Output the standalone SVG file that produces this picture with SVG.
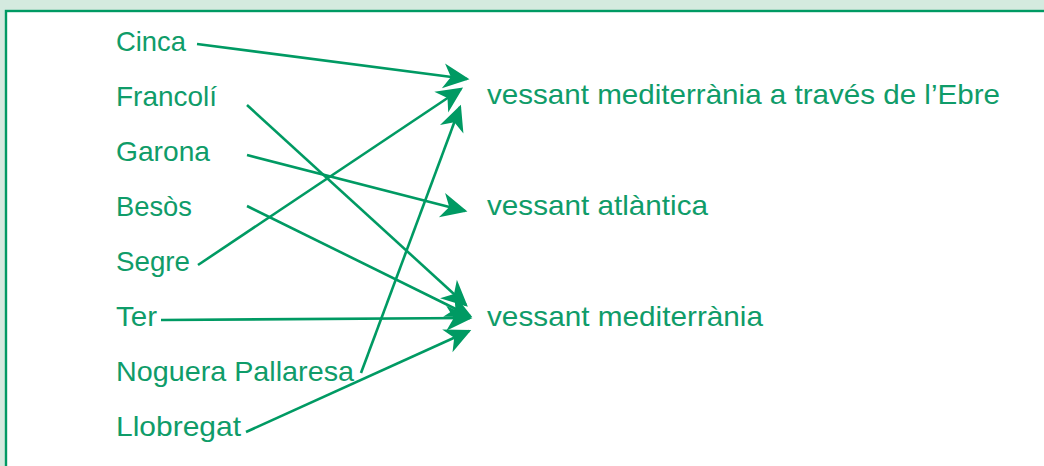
<svg xmlns="http://www.w3.org/2000/svg" width="1044" height="466" viewBox="0 0 1044 466">
<style>
.t{font-family:"Liberation Sans",Arial,sans-serif;font-size:28px;fill:#0f9c69}
.c line{stroke:#009a63;stroke-width:2.6;fill:none;marker-end:url(#ah)}
</style>
<defs>
<marker id="ah" markerUnits="userSpaceOnUse" markerWidth="30" markerHeight="30" viewBox="0 -12 24 24" refX="19" refY="0" orient="auto" overflow="visible">
<path d="M21,0 L0,-10 L6,0 L0,10 Z" fill="#009a63"/>
</marker>
</defs>
<rect x="0" y="0" width="1044" height="466" fill="#d4eadf"/>
<rect x="6" y="11" width="1100" height="500" fill="#ffffff" stroke="#009a63" stroke-width="2.4"/>
<g id="n-cinca"><text class="t" x="116" y="51" textLength="70" lengthAdjust="spacingAndGlyphs">Cinca</text></g>
<g id="n-francoli"><text class="t" x="116" y="106" textLength="101" lengthAdjust="spacingAndGlyphs">Francolí</text></g>
<g id="n-garona"><text class="t" x="116" y="161" textLength="94" lengthAdjust="spacingAndGlyphs">Garona</text></g>
<g id="n-besos"><text class="t" x="116" y="216" textLength="76" lengthAdjust="spacingAndGlyphs">Besòs</text></g>
<g id="n-segre"><text class="t" x="116" y="271" textLength="74" lengthAdjust="spacingAndGlyphs">Segre</text></g>
<g id="n-ter"><text class="t" x="116" y="326" textLength="41" lengthAdjust="spacingAndGlyphs">Ter</text></g>
<g id="n-noguera"><text class="t" x="116" y="381" textLength="238" lengthAdjust="spacingAndGlyphs">Noguera Pallaresa</text></g>
<g id="n-llobregat"><text class="t" x="116" y="436" textLength="125" lengthAdjust="spacingAndGlyphs">Llobregat</text></g>
<g id="n-ebre"><text class="t" x="487" y="104" textLength="513" lengthAdjust="spacingAndGlyphs">vessant mediterrània a través de l’Ebre</text></g>
<g id="n-atlantica"><text class="t" x="487" y="215" textLength="221" lengthAdjust="spacingAndGlyphs">vessant atlàntica</text></g>
<g id="n-mediterrania"><text class="t" x="487" y="326" textLength="276" lengthAdjust="spacingAndGlyphs">vessant mediterrània</text></g>
<g id="connectors" class="c">
<line x1="197" y1="44" x2="467" y2="79"/>
<line x1="247" y1="105" x2="466" y2="305"/>
<line x1="247" y1="155" x2="465" y2="211"/>
<line x1="247" y1="206" x2="470" y2="316"/>
<line x1="198" y1="265" x2="461" y2="89"/>
<line x1="161" y1="320" x2="470" y2="318"/>
<line x1="361" y1="373" x2="460" y2="107"/>
<line x1="246" y1="432" x2="469" y2="331"/>
</g>
</svg>
